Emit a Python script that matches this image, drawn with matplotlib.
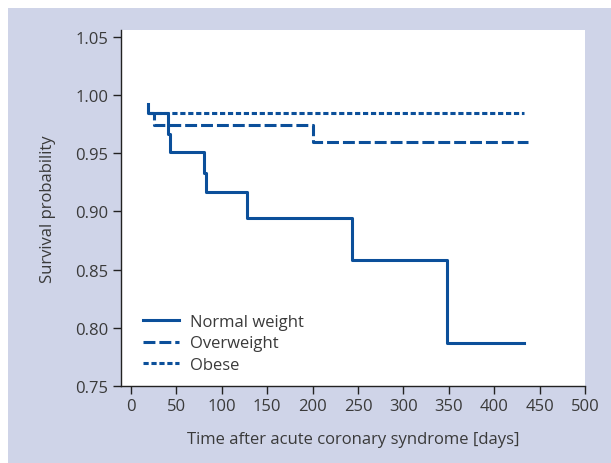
import matplotlib
matplotlib.use("Agg")
import matplotlib.pyplot as plt
from matplotlib.patches import Rectangle

# Data (Kaplan-Meier step curves)
normal_t = [19, 19, 40.5, 43, 80.5, 82.5, 128, 243, 348, 433]
normal_s = [0.992, 0.985, 0.967, 0.951, 0.933, 0.917, 0.894, 0.858, 0.787, 0.787]
over_t = [20, 25, 200, 437]
over_s = [0.985, 0.974, 0.960, 0.960]
obese_t = [19, 433]
obese_s = [0.985, 0.985]
labels = ["Normal weight", "Overweight", "Obese"]
xticks = list(range(0, 501, 50))
yticks = [0.75, 0.80, 0.85, 0.90, 0.95, 1.00, 1.05]

plt.rcParams['font.family'] = ['Open Sans', 'DejaVu Sans']
W, H = 611, 464
fig = plt.figure(figsize=(W / 100, H / 100), dpi=100, facecolor='white')
bg = '#cfd4e8'
fig.patches.append(Rectangle((8 / W, 0), 1 - 8 / W, 1 - 9 / H, transform=fig.transFigure,
                             facecolor=bg, edgecolor='none', zorder=-10))

ax = fig.add_axes([121 / W, 1 - 387 / H, (585 - 121) / W, (387 - 31) / H])
ax.set_facecolor('white')
col = '#0b4f9a'
txt = '#3a3a3a'
lw = 2.2
ax.step(normal_t, normal_s, where='post', color=col, lw=lw, label=labels[0])
ax.step(over_t, over_s, where='post', color=col, lw=lw, linestyle=(0, (3.9, 1.3)), label=labels[1])
ax.step(obese_t, obese_s, where='post', color=col, lw=lw, linestyle=(0, (1.7, 0.9)), label=labels[2])

ax.set_xlim(-11, 500)
ax.set_ylim(0.75, 1.056)
ax.set_xticks(xticks)
ax.set_yticks(yticks)
ax.set_yticklabels([f"{v:.2f}" for v in yticks])
for s in ['top', 'right']:
    ax.spines[s].set_visible(False)
for s in ['left', 'bottom']:
    ax.spines[s].set_color('#222222')
    ax.spines[s].set_linewidth(1.0)
ax.tick_params(axis='both', direction='out', length=6, width=1, color='#222222',
               labelcolor=txt, labelsize=12, pad=3)
ax.set_xlabel("Time after acute coronary syndrome [days]", fontsize=12, color=txt, labelpad=12)
ax.set_ylabel("Survival probability", fontsize=12, color=txt, labelpad=14)

leg = ax.legend(loc='lower left', bbox_to_anchor=(0.011, -0.01), frameon=False, fontsize=12,
                handlelength=2.2, handletextpad=0.65, labelspacing=0.33, borderaxespad=0.6)
for t in leg.get_texts():
    t.set_color(txt)

fig.savefig('out.png', dpi=100, facecolor='white')
